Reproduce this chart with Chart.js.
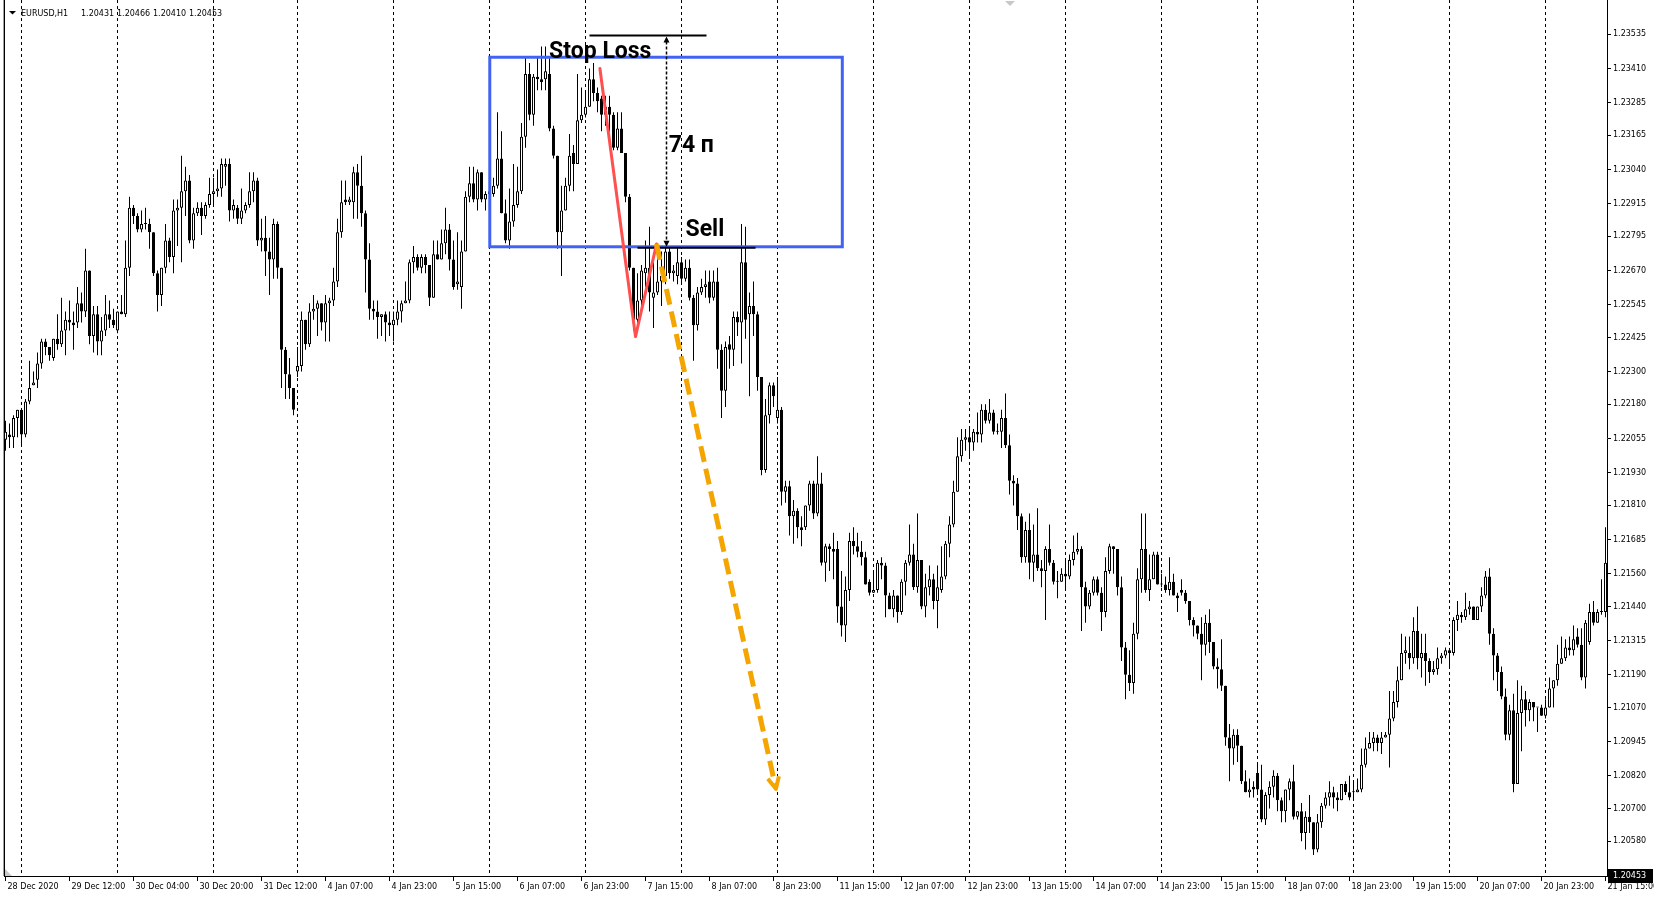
<!DOCTYPE html>
<html>
<head>
<meta charset="utf-8">
<title>EURUSD H1</title>
<script src="https://cdn.jsdelivr.net/npm/chart.js@4.4.1/dist/chart.umd.min.js"></script>
<style>
  html, body { margin: 0; padding: 0; background: #fff; }
  #wrap { width: 1654px; height: 900px; }
</style>
</head>
<body>
<div id="wrap"><canvas id="chart" width="1654" height="900"></canvas></div>
<script>
// EURUSD H1 candles (bar 0 = first visible hour)
const opens = [
  1.2205,1.2207,1.2206,1.2213,1.2216,1.2207,1.2219,1.2225,1.2227,1.2233,
  1.2241,1.2239,1.2235,1.2242,1.2240,1.2245,1.2249,1.2248,1.2248,1.2255,
  1.2252,1.2267,1.2243,1.2251,1.2241,1.2245,1.2251,1.2249,1.2245,1.2252,
  1.2251,1.2268,1.2290,1.2287,1.2282,1.2284,1.2284,1.2281,1.2266,1.2258,
  1.2268,1.2278,1.2272,1.2289,1.2290,1.2296,1.2300,1.2278,1.2288,1.2290,
  1.2287,1.2291,1.2295,1.2296,1.2297,1.2305,1.2306,1.2289,1.2290,1.2286,
  1.2289,1.2291,1.2296,1.2300,1.2278,1.2279,1.2274,1.2271,1.2284,1.2268,
  1.2238,1.2229,1.2224,1.2230,1.2232,1.2249,1.2240,1.2252,1.2253,1.2255,
  1.2248,1.2255,1.2256,1.2263,1.2281,1.2293,1.2292,1.2292,1.2303,1.2298,
  1.2288,1.2271,1.2253,1.2252,1.2250,1.2251,1.2248,1.2247,1.2249,1.2252,
  1.2255,1.2256,1.2270,1.2272,1.2268,1.2272,1.2269,1.2257,1.2273,1.2271,
  1.2277,1.2282,1.2271,1.2262,1.2261,1.2274,1.2294,1.2299,1.2293,1.2303,
  1.2293,1.2295,1.2295,1.2298,1.2308,1.2288,1.2278,1.2285,1.2291,1.2296,
  1.2316,1.2339,1.2324,1.2338,1.2337,1.2337,1.2339,1.2319,1.2309,1.2281,
  1.2289,1.2298,1.2310,1.2306,1.2322,1.2324,1.2327,1.2337,1.2332,1.2330,
  1.2324,1.2327,1.2324,1.2312,1.2319,1.2310,1.2294,1.2268,1.2249,1.2256,
  1.2266,1.2268,1.2257,1.2259,1.2263,1.2265,1.2274,1.2266,1.2265,1.2270,
  1.2264,1.2268,1.2257,1.2247,1.2259,1.2261,1.2263,1.2257,1.2263,1.2238,
  1.2223,1.2240,1.2238,1.2250,1.2248,1.2270,1.2251,1.2254,1.2251,1.2228,
  1.2194,1.2214,1.2225,1.2213,1.2216,1.2186,1.2188,1.2177,1.2179,1.2173,
  1.2173,1.2181,1.2189,1.2178,1.2189,1.2160,1.2166,1.2165,1.2165,1.2144,
  1.2137,1.2150,1.2168,1.2166,1.2164,1.2162,1.2153,1.2149,1.2150,1.2160,
  1.2159,1.2148,1.2143,1.2148,1.2142,1.2153,1.2160,1.2163,1.2151,1.2161,
  1.2144,1.2151,1.2154,1.2146,1.2150,1.2155,1.2167,1.2174,1.2186,1.2199,
  1.2205,1.2206,1.2204,1.2208,1.2207,1.2216,1.2212,1.2215,1.2208,1.2208,
  1.2213,1.2203,1.2190,1.2189,1.2177,1.2162,1.2172,1.2160,1.2163,1.2158,
  1.2157,1.2165,1.2160,1.2153,1.2153,1.2156,1.2155,1.2161,1.2164,1.2165,
  1.2151,1.2144,1.2149,1.2154,1.2149,1.2142,1.2157,1.2166,1.2165,1.2151,
  1.2129,1.2119,1.2116,1.2134,1.2154,1.2165,1.2150,1.2154,1.2163,1.2152,
  1.2152,1.2150,1.2153,1.2148,1.2150,1.2149,1.2146,1.2139,1.2137,1.2134,
  1.2130,1.2138,1.2131,1.2122,1.2121,1.2115,1.2096,1.2092,1.2097,1.2093,
  1.2080,1.2076,1.2078,1.2083,1.2077,1.2066,1.2075,1.2078,1.2082,1.2073,
  1.2069,1.2077,1.2080,1.2067,1.2069,1.2061,1.2067,1.2065,1.2055,1.2065,
  1.2071,1.2074,1.2076,1.2074,1.2073,1.2079,1.2076,1.2076,1.2076,1.2077,
  1.2086,1.2092,1.2094,1.2096,1.2094,1.2096,1.2097,1.2103,1.2109,1.2117,
  1.2127,1.2127,1.2125,1.2135,1.2125,1.2127,1.2124,1.2120,1.2121,1.2125,
  1.2126,1.2128,1.2127,1.2139,1.2141,1.2140,1.2143,1.2144,1.2139,1.2144,
  1.2148,1.2155,1.2134,1.2126,1.2120,1.2111,1.2097,1.2106,1.2079,1.2105,
  1.2110,1.2106,1.2109,1.2107,1.2107,1.2104,1.2107,1.2114,1.2117,1.2123,
  1.2125,1.2129,1.2128,1.2133,1.2130,1.2118,1.2131,1.2142,1.2138,1.2142,
  1.2142
];
const highs = [
  1.2212,1.2211,1.2214,1.2216,1.2216,1.2220,1.2234,1.2230,1.2237,1.2242,
  1.2242,1.2239,1.2242,1.2251,1.2257,1.2252,1.2256,1.2252,1.2261,1.2259,
  1.2275,1.2267,1.2254,1.2254,1.2250,1.2258,1.2256,1.2253,1.2252,1.2258,
  1.2278,1.2294,1.2291,1.2288,1.2289,1.2290,1.2286,1.2281,1.2267,1.2268,
  1.2284,1.2279,1.2293,1.2293,1.2309,1.2305,1.2302,1.2290,1.2292,1.2292,
  1.2292,1.2301,1.2301,1.2304,1.2308,1.2308,1.2308,1.2293,1.2291,1.2297,
  1.2292,1.2303,1.2303,1.2301,1.2286,1.2287,1.2279,1.2286,1.2285,1.2268,
  1.2239,1.2235,1.2224,1.2239,1.2252,1.2249,1.2255,1.2258,1.2256,1.2255,
  1.2258,1.2257,1.2268,1.2286,1.2300,1.2300,1.2294,1.2305,1.2306,1.2309,
  1.2289,1.2277,1.2256,1.2256,1.2251,1.2252,1.2252,1.2252,1.2256,1.2256,
  1.2263,1.2271,1.2276,1.2273,1.2273,1.2273,1.2269,1.2278,1.2278,1.2282,
  1.2290,1.2284,1.2278,1.2281,1.2278,1.2296,1.2305,1.2305,1.2304,1.2303,
  1.2296,1.2298,1.2301,1.2325,1.2318,1.2293,1.2297,1.2306,1.2305,1.2321,
  1.2345,1.2343,1.2339,1.2345,1.2349,1.2349,1.2345,1.2320,1.2309,1.2298,
  1.2301,1.2317,1.2313,1.2339,1.2334,1.2333,1.2341,1.2343,1.2334,1.2331,
  1.2331,1.2331,1.2325,1.2325,1.2325,1.2310,1.2295,1.2268,1.2266,1.2269,
  1.2278,1.2283,1.2270,1.2275,1.2274,1.2276,1.2276,1.2269,1.2276,1.2272,
  1.2271,1.2271,1.2258,1.2261,1.2264,1.2267,1.2267,1.2267,1.2268,1.2240,
  1.2241,1.2243,1.2252,1.2252,1.2284,1.2283,1.2259,1.2263,1.2252,1.2228,
  1.2220,1.2226,1.2226,1.2228,1.2217,1.2190,1.2190,1.2183,1.2180,1.2177,
  1.2181,1.2190,1.2190,1.2199,1.2193,1.2167,1.2167,1.2171,1.2168,1.2157,
  1.2155,1.2171,1.2173,1.2171,1.2168,1.2164,1.2154,1.2157,1.2161,1.2162,
  1.2160,1.2149,1.2150,1.2148,1.2154,1.2161,1.2174,1.2167,1.2178,1.2161,
  1.2156,1.2159,1.2156,1.2159,1.2166,1.2168,1.2177,1.2190,1.2206,1.2209,
  1.2209,1.2209,1.2209,1.2215,1.2218,1.2218,1.2220,1.2216,1.2211,1.2216,
  1.2222,1.2207,1.2192,1.2191,1.2178,1.2175,1.2178,1.2174,1.2180,1.2161,
  1.2166,1.2174,1.2161,1.2157,1.2158,1.2161,1.2163,1.2170,1.2171,1.2166,
  1.2153,1.2150,1.2155,1.2155,1.2151,1.2162,1.2167,1.2166,1.2165,1.2155,
  1.2131,1.2128,1.2138,1.2158,1.2178,1.2178,1.2163,1.2164,1.2164,1.2156,
  1.2155,1.2162,1.2156,1.2149,1.2154,1.2150,1.2146,1.2140,1.2137,1.2140,
  1.2141,1.2143,1.2131,1.2125,1.2132,1.2115,1.2101,1.2099,1.2099,1.2093,
  1.2084,1.2081,1.2080,1.2086,1.2086,1.2076,1.2080,1.2084,1.2083,1.2074,
  1.2077,1.2081,1.2086,1.2069,1.2072,1.2069,1.2075,1.2065,1.2068,1.2072,
  1.2076,1.2080,1.2078,1.2076,1.2079,1.2080,1.2082,1.2080,1.2081,1.2092,
  1.2096,1.2098,1.2098,1.2097,1.2098,1.2098,1.2113,1.2113,1.2122,1.2134,
  1.2133,1.2133,1.2140,1.2144,1.2134,1.2134,1.2125,1.2124,1.2129,1.2127,
  1.2129,1.2128,1.2140,1.2146,1.2142,1.2149,1.2146,1.2144,1.2144,1.2151,
  1.2157,1.2158,1.2136,1.2127,1.2122,1.2114,1.2108,1.2112,1.2117,1.2115,
  1.2113,1.2110,1.2109,1.2107,1.2108,1.2110,1.2118,1.2117,1.2130,1.2133,
  1.2132,1.2133,1.2137,1.2136,1.2136,1.2139,1.2145,1.2146,1.2143,1.2154,
  1.2173
];
const lows = [
  1.2201,1.2202,1.2202,1.2206,1.2203,1.2206,1.2218,1.2225,1.2224,1.2231,
  1.2236,1.2234,1.2234,1.2238,1.2239,1.2236,1.2245,1.2238,1.2246,1.2248,
  1.2250,1.2240,1.2237,1.2236,1.2236,1.2243,1.2246,1.2246,1.2244,1.2251,
  1.2250,1.2265,1.2284,1.2281,1.2281,1.2282,1.2275,1.2265,1.2252,1.2254,
  1.2266,1.2270,1.2266,1.2276,1.2270,1.2287,1.2277,1.2275,1.2287,1.2280,
  1.2286,1.2290,1.2291,1.2294,1.2294,1.2298,1.2285,1.2286,1.2284,1.2284,
  1.2288,1.2290,1.2292,1.2276,1.2274,1.2265,1.2258,1.2264,1.2264,1.2224,
  1.2220,1.2220,1.2214,1.2228,1.2230,1.2238,1.2239,1.2249,1.2243,1.2245,
  1.2241,1.2241,1.2254,1.2261,1.2279,1.2291,1.2291,1.2286,1.2286,1.2283,
  1.2259,1.2249,1.2249,1.2242,1.2243,1.2241,1.2243,1.2241,1.2247,1.2248,
  1.2255,1.2255,1.2266,1.2267,1.2266,1.2266,1.2254,1.2257,1.2271,1.2271,
  1.2273,1.2267,1.2260,1.2260,1.2253,1.2274,1.2292,1.2292,1.2289,1.2292,
  1.2289,1.2293,1.2294,1.2297,1.2288,1.2277,1.2275,1.2283,1.2290,1.2295,
  1.2312,1.2322,1.2320,1.2333,1.2333,1.2333,1.2318,1.2308,1.2275,1.2265,
  1.2289,1.2296,1.2296,1.2306,1.2321,1.2323,1.2327,1.2329,1.2325,1.2318,
  1.2320,1.2318,1.2311,1.2311,1.2310,1.2292,1.2267,1.2245,1.2248,1.2252,
  1.2261,1.2252,1.2246,1.2258,1.2254,1.2262,1.2264,1.2263,1.2262,1.2262,
  1.2263,1.2256,1.2234,1.2245,1.2258,1.2257,1.2255,1.2256,1.2231,1.2213,
  1.2217,1.2231,1.2232,1.2243,1.2233,1.2242,1.2221,1.2243,1.2223,1.2192,
  1.2193,1.2211,1.2217,1.2211,1.2181,1.2182,1.2170,1.2167,1.2169,1.2166,
  1.2172,1.2179,1.2176,1.2177,1.2159,1.2153,1.2157,1.2154,1.2138,1.2133,
  1.2131,1.2146,1.2163,1.2162,1.2159,1.2152,1.2148,1.2149,1.2149,1.2154,
  1.2140,1.2143,1.2140,1.2138,1.2141,1.2148,1.2159,1.2150,1.2149,1.2143,
  1.2140,1.2148,1.2143,1.2136,1.2149,1.2154,1.2162,1.2173,1.2186,1.2197,
  1.2201,1.2199,1.2201,1.2204,1.2204,1.2211,1.2211,1.2207,1.2207,1.2202,
  1.2202,1.2185,1.2181,1.2172,1.2160,1.2160,1.2154,1.2153,1.2157,1.2151,
  1.2139,1.2159,1.2152,1.2147,1.2153,1.2150,1.2154,1.2159,1.2163,1.2135,
  1.2138,1.2143,1.2148,1.2148,1.2135,1.2140,1.2156,1.2156,1.2148,1.2124,
  1.2110,1.2113,1.2112,1.2132,1.2149,1.2149,1.2146,1.2154,1.2152,1.2151,
  1.2149,1.2148,1.2148,1.2142,1.2148,1.2145,1.2137,1.2133,1.2132,1.2117,
  1.2126,1.2127,1.2121,1.2114,1.2113,1.2093,1.2080,1.2086,1.2087,1.2079,
  1.2076,1.2074,1.2074,1.2076,1.2065,1.2064,1.2070,1.2074,1.2069,1.2065,
  1.2065,1.2073,1.2066,1.2066,1.2058,1.2055,1.2061,1.2053,1.2054,1.2063,
  1.2070,1.2071,1.2070,1.2069,1.2073,1.2075,1.2073,1.2073,1.2076,1.2076,
  1.2085,1.2092,1.2091,1.2091,1.2090,1.2096,1.2085,1.2102,1.2107,1.2117,
  1.2123,1.2121,1.2123,1.2121,1.2118,1.2115,1.2116,1.2119,1.2119,1.2123,
  1.2125,1.2122,1.2126,1.2135,1.2138,1.2139,1.2141,1.2139,1.2139,1.2142,
  1.2147,1.2130,1.2117,1.2113,1.2110,1.2095,1.2095,1.2076,1.2079,1.2091,
  1.2100,1.2102,1.2102,1.2098,1.2104,1.2103,1.2107,1.2107,1.2115,1.2123,
  1.2124,1.2126,1.2126,1.2129,1.2117,1.2114,1.2130,1.2137,1.2138,1.2141,
  1.2140
];
const closes = [
  1.2208,1.2206,1.2213,1.2216,1.2207,1.2219,1.2224,1.2226,1.2233,1.2241,
  1.2239,1.2236,1.2242,1.2240,1.2245,1.2249,1.2248,1.2247,1.2255,1.2252,
  1.2267,1.2243,1.2251,1.2241,1.2245,1.2251,1.2249,1.2247,1.2252,1.2251,
  1.2268,1.2290,1.2287,1.2282,1.2284,1.2284,1.2281,1.2266,1.2258,1.2268,
  1.2278,1.2272,1.2289,1.2290,1.2296,1.2300,1.2278,1.2288,1.2290,1.2287,
  1.2291,1.2295,1.2296,1.2297,1.2306,1.2306,1.2289,1.2291,1.2286,1.2289,
  1.2291,1.2296,1.2300,1.2278,1.2279,1.2274,1.2271,1.2284,1.2268,1.2238,
  1.2229,1.2224,1.2216,1.2232,1.2249,1.2240,1.2252,1.2253,1.2255,1.2248,
  1.2255,1.2256,1.2263,1.2281,1.2292,1.2292,1.2293,1.2303,1.2298,1.2288,
  1.2271,1.2253,1.2252,1.2250,1.2251,1.2248,1.2247,1.2249,1.2252,1.2255,
  1.2256,1.2270,1.2272,1.2268,1.2272,1.2269,1.2257,1.2273,1.2271,1.2277,
  1.2282,1.2271,1.2261,1.2263,1.2274,1.2294,1.2299,1.2293,1.2303,1.2293,
  1.2295,1.2296,1.2298,1.2308,1.2288,1.2278,1.2285,1.2291,1.2296,1.2316,
  1.2339,1.2324,1.2338,1.2337,1.2336,1.2340,1.2319,1.2309,1.2281,1.2289,
  1.2298,1.2309,1.2306,1.2322,1.2324,1.2327,1.2337,1.2332,1.2329,1.2324,
  1.2327,1.2324,1.2312,1.2319,1.2310,1.2294,1.2268,1.2249,1.2256,1.2267,
  1.2268,1.2259,1.2259,1.2263,1.2265,1.2274,1.2266,1.2267,1.2270,1.2264,
  1.2268,1.2257,1.2247,1.2259,1.2261,1.2262,1.2257,1.2263,1.2238,1.2223,
  1.2239,1.2238,1.2250,1.2248,1.2270,1.2249,1.2254,1.2251,1.2228,1.2194,
  1.2214,1.2225,1.2221,1.2216,1.2186,1.2188,1.2177,1.2179,1.2173,1.2172,
  1.2181,1.2189,1.2178,1.2189,1.2160,1.2166,1.2165,1.2164,1.2144,1.2137,
  1.2150,1.2168,1.2166,1.2164,1.2162,1.2152,1.2149,1.2150,1.2160,1.2159,
  1.2148,1.2143,1.2148,1.2142,1.2153,1.2160,1.2163,1.2151,1.2161,1.2144,
  1.2151,1.2154,1.2146,1.2151,1.2155,1.2167,1.2174,1.2186,1.2199,1.2205,
  1.2206,1.2204,1.2208,1.2207,1.2216,1.2212,1.2215,1.2208,1.2208,1.2213,
  1.2203,1.2190,1.2189,1.2177,1.2162,1.2172,1.2160,1.2163,1.2158,1.2157,
  1.2165,1.2160,1.2153,1.2153,1.2156,1.2155,1.2161,1.2164,1.2165,1.2151,
  1.2144,1.2149,1.2154,1.2149,1.2142,1.2157,1.2166,1.2165,1.2151,1.2129,
  1.2119,1.2116,1.2134,1.2154,1.2165,1.2150,1.2154,1.2163,1.2152,1.2152,
  1.2150,1.2153,1.2148,1.2147,1.2149,1.2146,1.2139,1.2137,1.2134,1.2130,
  1.2138,1.2131,1.2122,1.2121,1.2115,1.2096,1.2092,1.2097,1.2093,1.2080,
  1.2076,1.2077,1.2077,1.2077,1.2066,1.2075,1.2078,1.2082,1.2073,1.2069,
  1.2077,1.2080,1.2067,1.2069,1.2061,1.2067,1.2065,1.2055,1.2065,1.2071,
  1.2074,1.2076,1.2074,1.2073,1.2079,1.2076,1.2074,1.2076,1.2077,1.2086,
  1.2092,1.2094,1.2096,1.2094,1.2096,1.2097,1.2103,1.2109,1.2117,1.2127,
  1.2128,1.2125,1.2135,1.2125,1.2127,1.2124,1.2120,1.2121,1.2125,1.2126,
  1.2128,1.2127,1.2139,1.2141,1.2140,1.2143,1.2144,1.2139,1.2144,1.2148,
  1.2155,1.2134,1.2126,1.2120,1.2111,1.2097,1.2106,1.2079,1.2105,1.2110,
  1.2106,1.2109,1.2107,1.2107,1.2104,1.2107,1.2114,1.2117,1.2123,1.2125,
  1.2129,1.2128,1.2132,1.2130,1.2118,1.2138,1.2142,1.2138,1.2142,1.2142,
  1.2160
];

// time axis: a label every 16 bars, a dotted line at every day start
const labelBars = [0,16,32,48,64,80,96,112,128,144,160,176,192,208,224,240,256,272,288,304,320,336,352,368,384,400];
const timeLabels = ["28 Dec 2020","29 Dec 12:00","30 Dec 04:00","30 Dec 20:00","31 Dec 12:00","4 Jan 07:00",
  "4 Jan 23:00","5 Jan 15:00","6 Jan 07:00","6 Jan 23:00","7 Jan 15:00","8 Jan 07:00","8 Jan 23:00",
  "11 Jan 15:00","12 Jan 07:00","12 Jan 23:00","13 Jan 15:00","14 Jan 07:00","14 Jan 23:00","15 Jan 15:00",
  "18 Jan 07:00","18 Jan 23:00","19 Jan 15:00","20 Jan 07:00","20 Jan 23:00","21 Jan 15:00"];
const dayStarts = [4,28,52,73,97,121,145,169,193,217,241,265,289,313,337,361,385];

// price scale
const priceTicks = [1.23535,1.23410,1.23285,1.23165,1.23040,1.22915,1.22795,1.22670,1.22545,1.22425,
  1.22300,1.22180,1.22055,1.21930,1.21810,1.21685,1.21560,1.21440,1.21315,1.21190,
  1.21070,1.20945,1.20820,1.20700,1.20580];
const priceMin = 1.20453, priceMax = 1.236606;
const bidPrice = "1.20453";
const symbolName = "EURUSD,H1";
const headerQuote = ["1.20431", "1.20466", "1.20410", "1.20453"];

// trade drawing, in bar / price units
const zoneBars = [121.07, 209.2];
const zonePrices = [1.23451, 1.22757];
const stopLossPrice = 1.23531, stopLossBars = [146, 175.25];
const sellPrice = 1.22753, sellBars = [158, 187.5];
const measureBar = 165.1;
const swingPath = [[148.6, 1.23410], [157.5, 1.22428], [162.75, 1.22767]];
const targetPath = [[162.75, 1.22767], [192.6, 1.20772]];
const notes = [
  { text: "Stop Loss", bar: 135.9, price: 1.23448 },
  { text: "74 п", bar: 165.8, price: 1.23103 },
  { text: "Sell", bar: 170.0, price: 1.22798 }
];

const smallFont = { family: "'DejaVu Sans', sans-serif", size: 8 };

const wickData = highs.map((h, i) => ({ x: i, y: [lows[i], h] }));
const bodyData = opens.map((o, i) => ({ x: i, y: [o, closes[i]] }));

const tradePlugin = {
  id: 'trade',
  beforeDraw(chart) {
    const ctx = chart.ctx;
    ctx.save();
    ctx.fillStyle = '#fff';
    ctx.fillRect(0, 0, chart.width, chart.height);
    ctx.restore();
  },
  afterDatasetsDraw(chart) {
    const { ctx, scales: { x, y } } = chart;
    const px = v => x.getPixelForValue(v);
    const py = v => y.getPixelForValue(v);
    ctx.save();

    // blue zone
    ctx.strokeStyle = '#4262f2';
    ctx.lineWidth = 3;
    ctx.strokeRect(px(zoneBars[0]), py(zonePrices[0]),
      px(zoneBars[1]) - px(zoneBars[0]), py(zonePrices[1]) - py(zonePrices[0]));

    // stop loss / sell levels
    ctx.strokeStyle = '#000';
    ctx.lineWidth = 2;
    [[stopLossBars, stopLossPrice], [sellBars, sellPrice]].forEach(([b, p]) => {
      ctx.beginPath();
      ctx.moveTo(px(b[0]), py(p));
      ctx.lineTo(px(b[1]), py(p));
      ctx.stroke();
    });

    // measure arrow between them
    const mx = Math.round(px(measureBar)) + 0.5;
    const yTop = py(stopLossPrice) + 1, yBot = py(sellPrice) - 1;
    ctx.lineWidth = 1.5;
    ctx.setLineDash([3, 2]);
    ctx.beginPath();
    ctx.moveTo(mx, yTop + 5);
    ctx.lineTo(mx, yBot - 5);
    ctx.stroke();
    ctx.setLineDash([]);
    ctx.fillStyle = '#000';
    ctx.beginPath();
    ctx.moveTo(mx, yTop); ctx.lineTo(mx - 3, yTop + 6); ctx.lineTo(mx + 3, yTop + 6); ctx.closePath();
    ctx.moveTo(mx, yBot); ctx.lineTo(mx - 3, yBot - 6); ctx.lineTo(mx + 3, yBot - 6); ctx.closePath();
    ctx.fill();

    // red swing
    ctx.strokeStyle = '#ff4f4f';
    ctx.lineWidth = 3;
    ctx.lineJoin = 'round';
    ctx.lineCap = 'round';
    ctx.beginPath();
    swingPath.forEach(([b, p], k) => k ? ctx.lineTo(px(b), py(p)) : ctx.moveTo(px(b), py(p)));
    ctx.stroke();

    // orange target arrow
    const x0 = px(targetPath[0][0]), y0 = py(targetPath[0][1]);
    const x1 = px(targetPath[1][0]), y1 = py(targetPath[1][1]);
    const ang = Math.atan2(y1 - y0, x1 - x0);
    ctx.strokeStyle = '#f5a500';
    ctx.lineCap = 'butt';
    ctx.lineWidth = 5;
    ctx.setLineDash([16, 7]);
    ctx.beginPath();
    ctx.moveTo(x0, y0);
    ctx.lineTo(x1 - 3 * Math.cos(ang), y1 - 3 * Math.sin(ang));
    ctx.stroke();
    ctx.setLineDash([]);
    ctx.lineWidth = 4;
    ctx.beginPath();
    ctx.moveTo(x1 - 13 * Math.cos(ang - 0.45), y1 - 13 * Math.sin(ang - 0.45));
    ctx.lineTo(x1, y1);
    ctx.lineTo(x1 - 13 * Math.cos(ang + 0.45), y1 - 13 * Math.sin(ang + 0.45));
    ctx.stroke();

    // notes
    ctx.fillStyle = '#000';
    ctx.font = "bold 23px Roboto, 'DejaVu Sans', sans-serif";
    ctx.textBaseline = 'alphabetic';
    notes.forEach(n => ctx.fillText(n.text, px(n.bar), py(n.price)));
    ctx.restore();
  },
  afterDraw(chart) {
    const { ctx, chartArea: a } = chart;
    ctx.save();
    // frame
    ctx.strokeStyle = '#a0a0a0';
    ctx.lineWidth = 1;
    ctx.beginPath(); ctx.moveTo(a.left - 0.5, 0); ctx.lineTo(a.left - 0.5, a.bottom); ctx.stroke();
    ctx.strokeStyle = '#000';
    ctx.beginPath(); ctx.moveTo(a.left + 0.5, 0); ctx.lineTo(a.left + 0.5, a.bottom); ctx.stroke();
    // corner markers
    ctx.fillStyle = '#c8c8c8';
    ctx.beginPath(); ctx.moveTo(a.left + 1, a.bottom - 7); ctx.lineTo(a.left + 1, a.bottom); ctx.lineTo(a.left + 8, a.bottom); ctx.closePath(); ctx.fill();
    ctx.beginPath(); ctx.moveTo(1005, 1); ctx.lineTo(1015, 1); ctx.lineTo(1010, 6); ctx.closePath(); ctx.fill();
    // header
    ctx.fillStyle = '#000';
    ctx.beginPath(); ctx.moveTo(9, 11); ctx.lineTo(16, 11); ctx.lineTo(12.5, 14.5); ctx.closePath(); ctx.fill();
    ctx.font = "8px 'DejaVu Sans', sans-serif";
    ctx.textBaseline = 'alphabetic';
    ctx.fillText(symbolName, 21, 16);
    headerQuote.forEach((q, k) => ctx.fillText(q, 81 + k * 36, 16));
    // bid price box
    const yb = Math.min(chart.scales.y.getPixelForValue(parseFloat(bidPrice)), a.bottom);
    ctx.fillStyle = '#000';
    ctx.fillRect(a.right + 1, yb - 7, chart.width - a.right - 2, 14);
    ctx.fillStyle = '#fff';
    ctx.textBaseline = 'middle';
    ctx.fillText(bidPrice, a.right + 6, yb);
    ctx.restore();
  }
};

new Chart(document.getElementById('chart'), {
  type: 'bar',
  data: {
    datasets: [
      {
        label: 'body',
        data: bodyData,
        order: 0,
        grouped: false,
        barThickness: 3,
        minBarLength: 1,
        borderWidth: 1,
        borderSkipped: false,
        inflateAmount: 0,
        borderColor: '#000',
        backgroundColor: c => closes[c.dataIndex] >= opens[c.dataIndex] ? '#fff' : '#000'
      },
      {
        label: 'wick',
        data: wickData,
        order: 1,
        grouped: false,
        barThickness: 1,
        minBarLength: 1,
        borderWidth: 0,
        inflateAmount: 0,
        backgroundColor: '#000'
      }
    ]
  },
  options: {
    responsive: false,
    devicePixelRatio: 1,
    animation: false,
    events: [],
    layout: { padding: { left: 4, top: 0, right: 0, bottom: 0 } },
    plugins: { legend: { display: false }, tooltip: { enabled: false } },
    scales: {
      x: {
        type: 'linear',
        position: 'bottom',
        offset: false,
        min: -0.375,
        max: 400.375,
        afterBuildTicks: s => { s.ticks = labelBars.map(v => ({ value: v })); },
        afterFit: s => { s.height = 24; s.paddingLeft = 0; s.paddingRight = 0; },
        ticks: {
          autoSkip: false,
          maxRotation: 0,
          align: 'start',
          labelOffset: 2,
          padding: 1,
          color: '#000',
          font: smallFont,
          callback: (v, i) => timeLabels[i]
        },
        grid: { offset: false, drawOnChartArea: false, drawTicks: true, tickLength: 5, color: '#000' },
        border: { color: '#000', width: 1 }
      },
      days: {
        type: 'linear',
        position: 'top',
        offset: false,
        min: -0.375,
        max: 400.375,
        afterBuildTicks: s => { s.ticks = dayStarts.map(v => ({ value: v })); },
        afterFit: s => { s.height = 0; s.paddingLeft = 0; s.paddingRight = 0; },
        ticks: { display: false },
        grid: { offset: false, drawTicks: false, color: '#000', lineWidth: 1 },
        border: { display: false, dash: [3, 3] }
      },
      y: {
        position: 'right',
        min: priceMin,
        max: priceMax,
        afterBuildTicks: s => { s.ticks = priceTicks.map(v => ({ value: v })); },
        afterFit: s => { s.width = 47; s.paddingTop = 0; s.paddingBottom = 0; },
        ticks: {
          padding: 2,
          color: '#000',
          font: smallFont,
          callback: v => v.toFixed(5)
        },
        grid: { drawOnChartArea: false, tickLength: 4, color: '#000' },
        border: { color: '#000', width: 1 }
      }
    }
  },
  plugins: [tradePlugin]
});
</script>
</body>
</html>
